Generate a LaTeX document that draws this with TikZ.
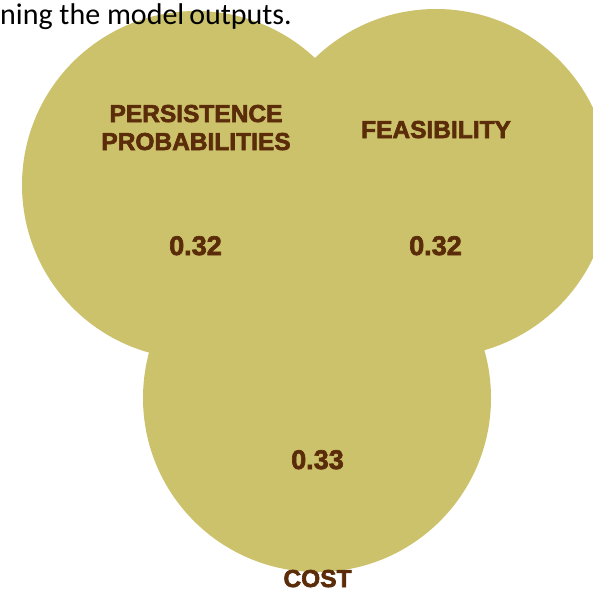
\documentclass[tikz,border=0pt]{standalone}
\usepackage{fontspec}
\setmainfont{Liberation Sans}
\newfontfamily\heavyfont{Liberation Sans Bold}[FakeBold=2.5]
\newfontfamily\bodyfont{Carlito}
\definecolor{venn}{HTML}{CCC26B}
\definecolor{labelbrown}{HTML}{5B2C0A}
\begin{document}
\begin{tikzpicture}[x=1pt,y=-1pt,
  setcircle/.style={circle,fill=venn,draw=none,inner sep=0pt,minimum size=348pt},
  setlabel/.style={text=labelbrown,font=\heavyfont\fontsize{24.5}{28}\selectfont,align=center,anchor=base,inner sep=0pt},
  setvalue/.style={text=labelbrown,font=\heavyfont\fontsize{27}{30}\selectfont,anchor=base,inner sep=0pt}]
\useasboundingbox (0,0) rectangle (593,591);
% the three overlapping sets
\node[setcircle] (persist) at (196,185) {};
\node[setcircle] (feas) at (436,183) {};
\node[setcircle] (cost) at (317,398) {};
% set names (base anchor of a two-line node is its last line)
\node[setlabel] (persistlabel) at (196,150) {PERSISTENCE\\PROBABILITIES};
\node[setlabel] (feaslabel) at (436,138) {FEASIBILITY};
\node[setlabel] (costlabel) at (317.5,587) {COST};
% weights
\node[setvalue] (persistval) at (195.5,255) {0.32};
\node[setvalue] (feasval) at (435.5,255) {0.32};
\node[setvalue] (costval) at (317.5,469) {0.33};
% running text above the diagram
\node[anchor=base west,inner sep=0pt,font=\bodyfont\fontsize{30}{34}\selectfont] (caption) at (0,25) {ning the model\,outputs.};
\end{tikzpicture}
\end{document}
